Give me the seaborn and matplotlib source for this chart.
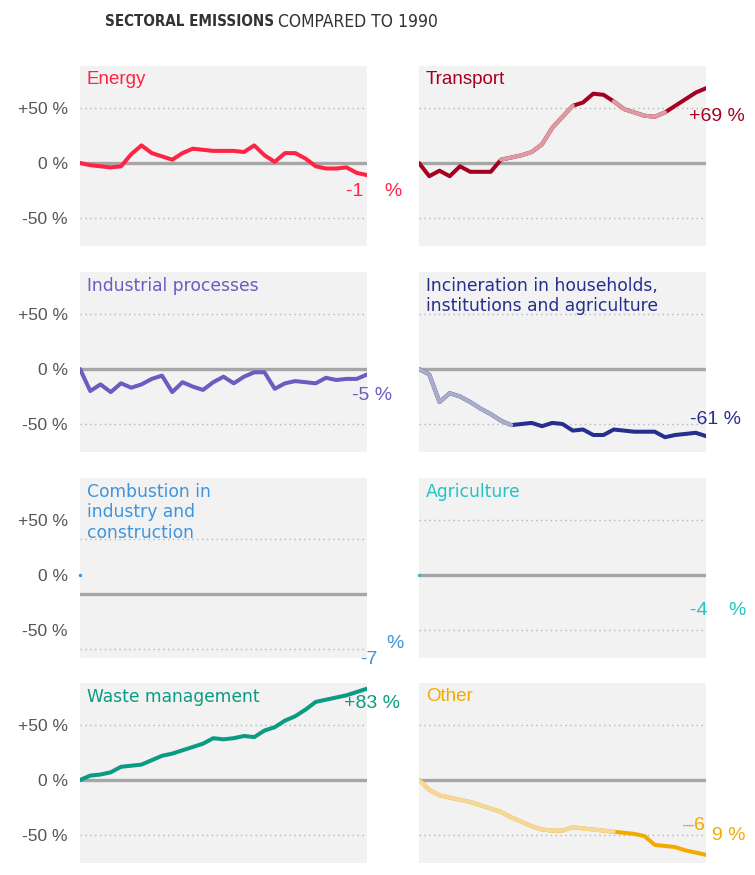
import os
import numpy as np
import pandas as pd
import matplotlib
matplotlib.use("Agg")
import matplotlib.pyplot as plt
from matplotlib import font_manager as fm
import seaborn as sns

# Data: change in emissions vs 1990 (%), one value per year 1990-2018
years = list(range(1990, 2019))

energy = [0, -2, -3, -4, -3, 8, 16, 9, 6, 3, 9, 13, 12, 11, 11, 11, 10, 16, 7, 1,
          9, 9, 4, -3, -5, -5, -4, -9, -11]
transport = [0, -12, -7, -12, -3, -8, -8, -8, 3, 5, 7, 10, 17, 32, 42, 52, 55, 63, 62, 56,
             49, 46, 43, 42, 46, 52, 58, 64, 68]
industrial = [0, -20, -14, -21, -13, -17, -14, -9, -6, -21, -12, -16, -19, -12, -7, -13, -7, -3,
              -3, -18, -13, -11, -12, -13, -8, -10, -9, -9, -5]
incineration = [0, -5, -30, -22, -25, -30, -36, -41, -47, -51, -50, -49, -52, -49, -50, -56,
                -55, -60, -60, -55, -56, -57, -57, -57, -62, -60, -59, -58, -61]
combustion = [0]      # only the first point is visible
agriculture = [0]     # only the first point is visible
waste = [0, 4, 5, 7, 12, 13, 14, 18, 22, 24, 27, 30, 33, 38, 37, 38, 40, 39, 45, 48, 54, 58,
         64, 71, 73, 75, 77, 80, 83]
other = [0, -9, -14, -16, -18, -20, -23, -26, -29, -34, -38, -42, -45, -46, -46, -43, -44, -45,
         -46, -47, -48, -49, -51, -59, -60, -61, -64, -66, -68]

titles = ["Energy", "Transport", "Industrial processes",
          "Incineration in households,\ninstitutions and agriculture",
          "Combustion in\nindustry and\nconstruction", "Agriculture",
          "Waste management", "Other"]
series = [energy, transport, industrial, incineration, combustion, agriculture, waste, other]
y_ticks = [50, 0, -50]
y_tick_labels = ["+50 %", "0 %", "-50 %"]
x_ticks = [1990, 2000, 2010, 2018]

# colours (dark line, faded part of the line)
colors = ["#ff2444", "#a50021", "#6a5cc0", "#262f8e", "#3d95dd", "#22c3c3", "#0b9b82", "#f2aa00"]
faded_colors = {1: "#dc9aa2", 3: "#a9adc9", 7: "#f3d898"}
faded_ranges = {1: [(1998, 2005), (2009, 2014)], 3: [(1990, 1999)], 7: [(1990, 2009)]}
title_fonts = ["Liberation Sans", "Liberation Sans", "DejaVu Sans", "DejaVu Sans",
               "DejaVu Sans", "DejaVu Sans", "DejaVu Sans", "Liberation Sans"]

sns.set_style("white")
plt.rcParams['font.family'] = ['Liberation Sans', 'DejaVu Sans']


# look for a narrow / condensed font for the headline
def find_condensed(bold):
    prefs = ["opensans_condensed", "opensanscondensed", "liberationsansnarrow",
             "dejavusanscondensed", "robotocondensed", "notosansdisplay"]
    files = sorted(set(f.fname for f in fm.fontManager.ttflist))
    for p in prefs:
        for fn in files:
            b = os.path.basename(fn).lower().replace("-", "").replace(" ", "")
            if p.replace("_", "") not in b.replace("_", ""):
                continue
            if "italic" in b or "oblique" in b:
                continue
            is_bold = "bold" in b and "semibold" not in b and "extrabold" not in b
            if bold == is_bold:
                return fn
    return None


cond_bold = find_condensed(True)
cond_reg = find_condensed(False)

W, H = 755, 875
fig = plt.figure(figsize=(W / 100, H / 100), dpi=100)

col_left = [80, 419]
col_w = 287
row_zero = [163, 369, 575, 780]  # pixel y of 0 % in each row
px_per_pct = 1.1
y_lo, y_hi = -75, 88

axes = []
for k in range(8):
    r, c = divmod(k, 2)
    top = row_zero[r] - y_hi * px_per_pct
    height = (y_hi - y_lo) * px_per_pct
    ax = fig.add_axes([col_left[c] / W, 1 - (top + height) / H, col_w / W, height / H])
    ax.set_facecolor("#f2f2f2")
    ax.set_xlim(1990, 2018)
    ax.set_ylim(y_lo, y_hi)
    for s in ax.spines.values():
        s.set_visible(False)

    # reference lines (combustion panel is drawn shifted, as in the original)
    shift = -17 if k == 4 else 0
    for lv in y_ticks:
        if lv == 0:
            ax.axhline(lv + shift, color="#a6a6a6", lw=2.4, zorder=1)
        else:
            ax.axhline(lv + shift, color="#b4b4b4", lw=1.0, ls=(0, (1, 2.5)), zorder=1)

    vals = series[k]
    df = pd.DataFrame({"year": years[:len(vals)], "value": vals})
    if len(vals) > 1:
        sns.lineplot(data=df, x="year", y="value", ax=ax, color=colors[k], lw=2.9, zorder=3)
        for (a, b) in faded_ranges.get(k, []):
            sub = df[(df.year >= a) & (df.year <= b)]
            sns.lineplot(data=sub, x="year", y="value", ax=ax, color=faded_colors[k],
                         lw=2.9, zorder=4)
    else:
        sns.scatterplot(data=df, x="year", y="value", ax=ax, color=colors[k], s=6,
                        linewidth=0, zorder=4, clip_on=False)

    ax.set_xlabel("")
    ax.set_ylabel("")
    if c == 0:
        ax.set_yticks(y_ticks)
        ax.set_yticklabels(y_tick_labels, fontsize=12.5, color="#555555")
        ax.tick_params(axis="y", length=0, pad=9)
    else:
        ax.set_yticks([])
    if r == 3:
        ax.set_xticks(x_ticks)
        ax.set_xticklabels([])
        ax.tick_params(axis="x", length=3, width=1, color="#c0c0c0", direction="out")
    else:
        ax.set_xticks([])

    ax.text(0.024, 0.975, titles[k], transform=ax.transAxes, ha="left", va="top",
            fontsize=12.3 if title_fonts[k] == "DejaVu Sans" else 13.5,
            family=title_fonts[k], color=colors[k], linespacing=1.2)
    axes.append(ax)

# end-of-line value labels (kept as they appear in the original)
lab = dict(fontsize=14, va="center", ha="left")
axes[0].text(2016.0, -26, "-1    %", color=colors[0], **lab)
axes[1].text(2016.3, 42, "+69 %", color=colors[1], **lab)
axes[2].text(2016.5, -24, "-5 %", color=colors[2], **lab)
axes[3].text(2016.4, -46, "-61 %", color=colors[3], **lab)
axes[4].text(2017.3, -77, "-7", color=colors[4], **lab)
axes[4].text(2019.9, -62, "%", color=colors[4], **lab)
axes[5].text(2016.4, -32, "-4    %", color=colors[5], **lab)
axes[6].text(2015.8, 70, "+83 %", color=colors[6], **lab)
axes[7].text(2015.8, -41, "\u20136", color=colors[7], **lab)
axes[7].text(2018.6, -50, "9 %", color=colors[7], **lab)

# title: bold part + regular part
if cond_bold and cond_reg:
    fp_b = fm.FontProperties(fname=cond_bold, size=12.5)
    fp_r = fm.FontProperties(fname=cond_reg, size=12.5)
else:
    fp_b = fm.FontProperties(family="Open Sans", weight="bold", size=12.5)
    fp_r = fm.FontProperties(family="Open Sans", size=12.5)
t1 = fig.text(274 / W, 1 - 22 / H, "SECTORAL EMISSIONS", ha="right", va="center",
              fontproperties=fp_b, color="#333333")
t2 = fig.text(278 / W, 1 - 22 / H, "COMPARED TO 1990", ha="left", va="center",
              fontproperties=fp_r, color="#333333")

# shrink the headline a bit if the chosen font is much wider than the original
fig.canvas.draw()
rend = fig.canvas.get_renderer()
w1 = t1.get_window_extent(rend).width
w2 = t2.get_window_extent(rend).width
f1 = min(1.0, 1.3 * 130 / w1)
f2 = min(1.0, 1.3 * 126 / w2)
t1.set_fontsize(fp_b.get_size() * f1)
t2.set_fontsize(fp_r.get_size() * f2)

fig.savefig("out.png", dpi=100, facecolor="white")
